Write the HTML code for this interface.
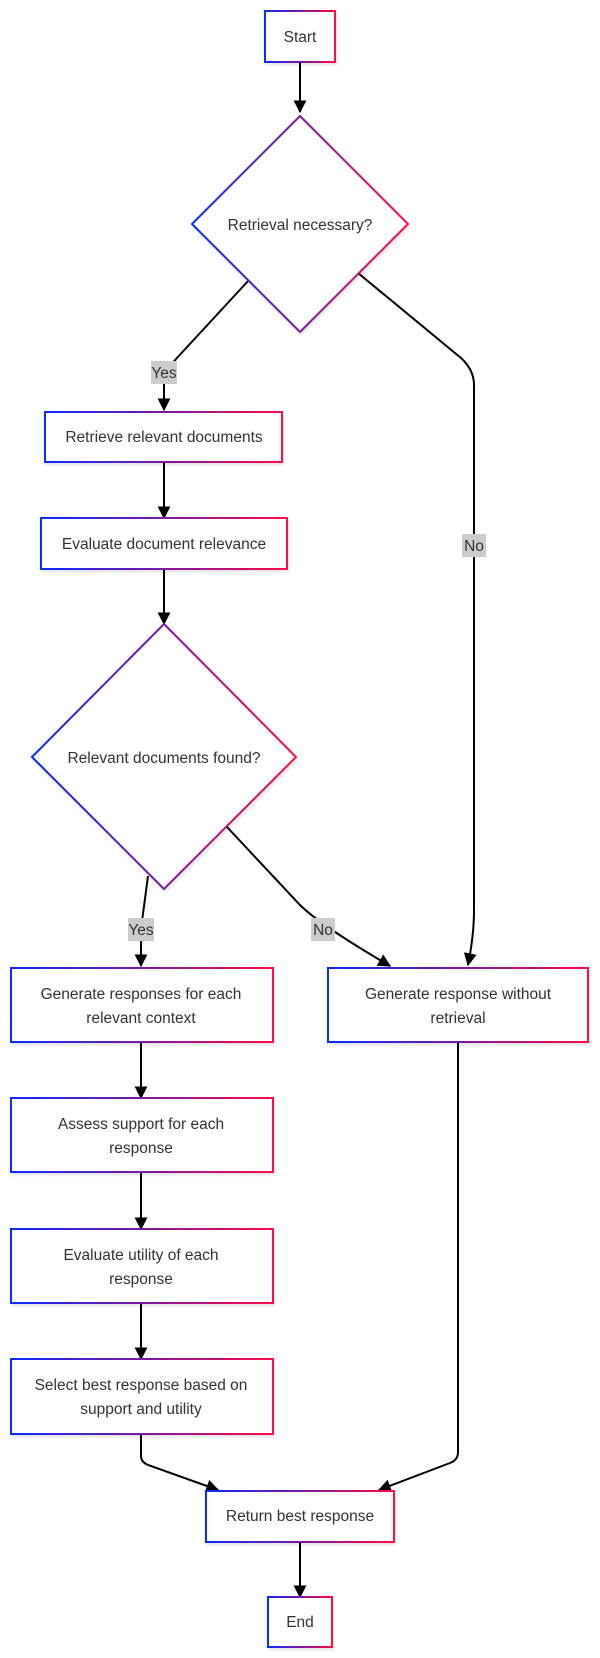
<!DOCTYPE html>
<html><head><meta charset="utf-8"><style>
html,body{margin:0;padding:0;background:#fff;}
svg{display:block;}
text{font-family:"Liberation Sans",Arial,sans-serif;font-size:15.5px;fill:#333;}
</style></head><body>
<svg width="600" height="1658" viewBox="0 0 600 1658" xmlns="http://www.w3.org/2000/svg">
<defs>
<linearGradient id="g" x1="0" y1="0" x2="1" y2="0"><stop offset="0" stop-color="#0b2bff"/><stop offset="0.5" stop-color="#7a1aa0"/><stop offset="1" stop-color="#ff0a4a"/></linearGradient>
<marker id="a" viewBox="0 0 10 10" refX="9" refY="5" markerWidth="6.5" markerHeight="6.5" orient="auto"><path d="M0,0L10,5L0,10z" fill="#000"/></marker>
<filter id="s" x="-10%" y="-10%" width="120%" height="130%"><feDropShadow dx="1" dy="2" stdDeviation="1.5" flood-color="#000" flood-opacity="0.12"/></filter>
</defs>
<g fill="none" stroke="#000" stroke-width="2">
<path d="M300,62 V112" marker-end="url(#a)"/>
<path d="M249,280 L164,372 V410" marker-end="url(#a)"/>
<path d="M164,463 V518" marker-end="url(#a)"/>
<path d="M164,570 V624" marker-end="url(#a)"/>
<path d="M358,273 L461,358 Q474,370 474,385 V910 Q474,935 468,965" marker-end="url(#a)"/>
<path d="M148,876 L141,929 V966" marker-end="url(#a)"/>
<path d="M227,827 L300,905 Q320,925 390,966" marker-end="url(#a)"/>
<path d="M141,1043 V1098" marker-end="url(#a)"/>
<path d="M141,1173 V1229" marker-end="url(#a)"/>
<path d="M141,1304 V1359" marker-end="url(#a)"/>
<path d="M141,1435 V1456 Q141,1462 148,1465 L218,1490" marker-end="url(#a)"/>
<path d="M458,1043 V1452 Q458,1460 450,1463 L379,1490" marker-end="url(#a)"/>
<path d="M300,1543 V1597" marker-end="url(#a)"/>
</g>
<g fill="#fff" stroke="url(#g)" stroke-width="2" filter="url(#s)">
<rect x="265" y="11" width="70" height="51"/>
<path d="M300,116 L408,224 L300,332 L192,224 Z"/>
<rect x="45" y="412" width="237" height="50"/>
<rect x="41" y="518" width="246" height="51"/>
<path d="M164,624 L296,757 L164,889 L32,757 Z"/>
<rect x="11" y="968" width="262" height="74"/>
<rect x="328" y="968" width="260" height="74"/>
<rect x="11" y="1098" width="262" height="74"/>
<rect x="11" y="1229" width="262" height="74"/>
<rect x="11" y="1359" width="262" height="75"/>
<rect x="206" y="1491" width="188" height="51"/>
<rect x="268" y="1597" width="64" height="50"/>
</g>
<g fill="#cccccc">
<rect x="151" y="361" width="26" height="23"/>
<rect x="462" y="534" width="24" height="23"/>
<rect x="128" y="918" width="26" height="23"/>
<rect x="311" y="918" width="24" height="23"/>
</g>
<g text-anchor="middle">
<text x="300" y="42">Start</text>
<text x="300" y="230">Retrieval necessary?</text>
<text x="164" y="378">Yes</text>
<text x="474" y="551">No</text>
<text x="164" y="442">Retrieve relevant documents</text>
<text x="164" y="549">Evaluate document relevance</text>
<text x="164" y="763">Relevant documents found?</text>
<text x="141" y="935">Yes</text>
<text x="323" y="935">No</text>
<text x="141" y="999">Generate responses for each</text>
<text x="141" y="1023">relevant context</text>
<text x="458" y="999">Generate response without</text>
<text x="458" y="1023">retrieval</text>
<text x="141" y="1129">Assess support for each</text>
<text x="141" y="1153">response</text>
<text x="141" y="1260">Evaluate utility of each</text>
<text x="141" y="1284">response</text>
<text x="141" y="1390">Select best response based on</text>
<text x="141" y="1414">support and utility</text>
<text x="300" y="1521">Return best response</text>
<text x="300" y="1627">End</text>
</g>
</svg>
</body></html>
